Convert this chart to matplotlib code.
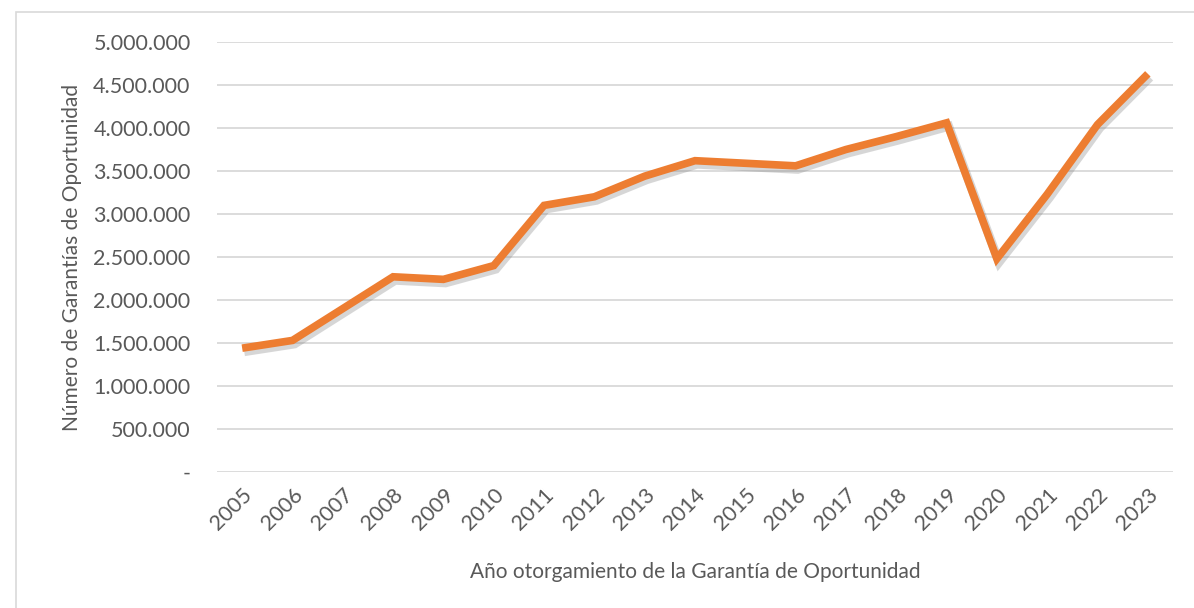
import matplotlib.pyplot as plt
import matplotlib.patheffects as pe
from matplotlib.patches import Rectangle
from matplotlib.ticker import FuncFormatter

years = ['2005', '2006', '2007', '2008', '2009', '2010', '2011', '2012', '2013', '2014',
         '2015', '2016', '2017', '2018', '2019', '2020', '2021', '2022', '2023']
garantias = [1440000, 1530000, 1900000, 2270000, 2240000, 2400000, 3100000, 3200000,
             3440000, 3620000, 3590000, 3560000, 3750000, 3900000, 4060000, 2480000,
             3230000, 4040000, 4630000]
yticks = [0, 500000, 1000000, 1500000, 2000000, 2500000, 3000000, 3500000, 4000000,
          4500000, 5000000]

plt.rcParams['font.family'] = ['Lato', 'DejaVu Sans']
txt = '#595959'

fig = plt.figure(figsize=(11.94, 6.08), dpi=100)
fig.patches.append(Rectangle((16 / 1194, -0.1), 1.2, 1 - 12 / 608 + 0.1,
                             transform=fig.transFigure, fill=False,
                             edgecolor='#d9d9d9', linewidth=1.2))
ax = fig.add_axes([217 / 1194, 1 - 472 / 608, (1173 - 217) / 1194, 430 / 608])

x = range(len(years))
ax.plot(x, garantias, color='#ED7D31', linewidth=5.5, solid_joinstyle='miter',
        solid_capstyle='butt',
        path_effects=[pe.SimpleLineShadow(offset=(1.5, -2.5), shadow_color='#7a7a7a',
                                          alpha=0.3, linewidth=6.5),
                      pe.Normal()])

ax.set_xlim(-0.5, len(years) - 0.5)
ax.set_ylim(0, 5000000)
ax.set_yticks(yticks)
ax.yaxis.set_major_formatter(FuncFormatter(
    lambda v, p: '-' if v == 0 else f'{int(v):,}'.replace(',', '.')))
ax.set_xticks(list(x))
ax.set_xticklabels(years, rotation=45, ha='right', rotation_mode='anchor')

ax.grid(axis='y', color='#d9d9d9', linewidth=1.3)
ax.set_axisbelow(True)
for s in ax.spines.values():
    s.set_visible(False)
ax.tick_params(axis='both', length=0, colors=txt, labelsize=15.5)
ax.tick_params(axis='y', pad=19)
ax.tick_params(axis='x', pad=9)

ax.set_ylabel('Número de Garantías de Oportunidad', color=txt, fontsize=15, labelpad=8)
ax.set_xlabel('Año otorgamiento de la Garantía de Oportunidad', color=txt, fontsize=15,
              labelpad=20)

fig.savefig('out.png', dpi=100, facecolor='white')
